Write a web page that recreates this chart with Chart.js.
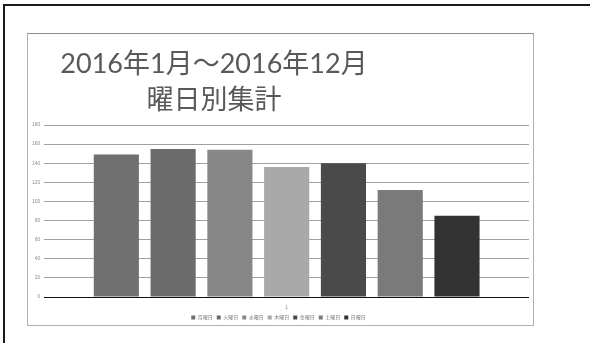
<!DOCTYPE html>
<html>
<head>
<meta charset="utf-8">
<script src="https://cdn.jsdelivr.net/npm/chart.js@4/dist/chart.umd.min.js"></script>
<style>
  html, body { margin: 0; padding: 0; background: #fff; width: 590px; height: 343px; overflow: hidden; }
  #frame { position: absolute; left: 3px; top: 4px; width: 620px; height: 380px; border: 2px solid #1a1a1a; }
  #box { position: absolute; left: 27px; top: 33px; width: 505px; height: 291px; border: 1px solid #b0b0b0; border-top-color: #8c8c8c; background: #fff; }
  #chart { position: absolute; left: 0; top: 0; }
</style>
</head>
<body>
<div id="frame"></div>
<div id="box"><canvas id="chart" width="505" height="296"></canvas></div>
<script>
// data
const categories = ['1'];
const days = ['月曜日', '火曜日', '水曜日', '木曜日', '金曜日', '土曜日', '日曜日'];
const counts = [149, 155, 154, 136, 140, 112, 85];
const titleLines = ['2016年1月～2016年12月', '曜日別集計'];
const yMin = 0, yMax = 180, yStep = 20;

const colours = ['#707070', '#6b6b6b', '#878787', '#a9a9a9', '#4a4a4a', '#7a7a7a', '#333333'];

// title drawn left of centre, like the original sheet
const titlePlugin = {
    id: 'sheetTitle',
    afterDraw(chart) {
        const c = chart.ctx;
        c.save();
        c.fillStyle = '#595959';
        c.font = '27px Lato, "Noto Sans CJK JP"';
        c.textAlign = 'center';
        c.textBaseline = 'middle';
        c.fillText(titleLines[0], 186, 30);
        c.fillText(titleLines[1], 186, 66);
        c.restore();
    }
};

const ctx = document.getElementById('chart');
new Chart(ctx, {
    type: 'bar',
    data: {
        labels: categories,
        datasets: days.map((d, i) => ({
            label: d,
            data: [counts[i]],
            backgroundColor: colours[i],
            borderWidth: 0
        }))
    },
    options: {
        responsive: false,
        animation: false,
        categoryPercentage: 0.82,
        barPercentage: 0.795,
        layout: { padding: { top: 91, left: 0, right: 4, bottom: 0 } },
        scales: {
            x: {
                grid: { display: false },
                border: { display: false },
                ticks: { color: '#8c8c8c', font: { size: 5, lineHeight: 1.6 }, padding: -1 }
            },
            y: {
                min: yMin,
                max: yMax,
                border: { display: false },
                grid: {
                    drawTicks: false,
                    color: c => c.tick && c.tick.value === 0 ? '#111' : '#a0a0a0',
                    lineWidth: 1
                },
                ticks: { stepSize: yStep, color: '#8c8c8c', font: { size: 5 }, padding: 4 }
            }
        },
        plugins: {
            title: { display: false },
            tooltip: { enabled: false },
            legend: {
                position: 'bottom',
                labels: {
                    boxWidth: 4,
                    boxHeight: 4,
                    padding: 4,
                    color: '#7f7f7f',
                    font: { size: 5, family: '"Noto Sans CJK JP"' }
                }
            }
        }
    },
    plugins: [titlePlugin]
});
</script>
</body>
</html>
